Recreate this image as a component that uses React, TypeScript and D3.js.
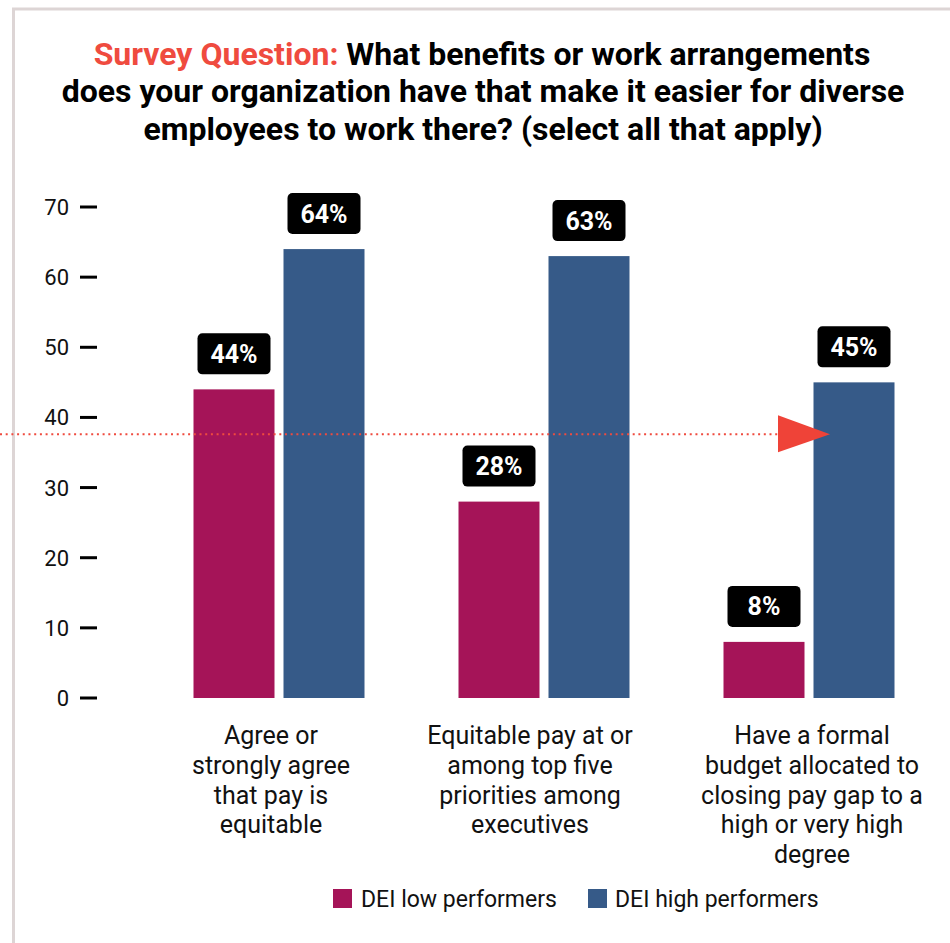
import React from "react";
import * as d3 from "d3";

const categories = [
  ["Agree or", "strongly agree", "that pay is", "equitable"],
  ["Equitable pay at or", "among top five", "priorities among", "executives"],
  ["Have a formal", "budget allocated to", "closing pay gap to a", "high or very high", "degree"],
];
const categoryKeys = ["c1", "c2", "c3"];
const seriesNames = ["DEI low performers", "DEI high performers"];
const lowValues = [44, 28, 8];
const highValues = [64, 63, 45];
const yTicks = [0, 10, 20, 30, 40, 50, 60, 70];
const referenceValue = 37.6;

const W = 950;
const H = 943;
const colors = ["#a51458", "#365a88"];
const FONT = "Roboto, 'Noto Sans', sans-serif";
// horizontal nudge of each category label block relative to its group centre (layout only)
const labelNudge = [-8, -14, 3];

export default function App() {
  const y = d3.scaleLinear().domain([0, 70]).range([698, 207]);
  const x0 = d3.scaleBand<string>().domain(categoryKeys).range([146.5, 941.5]).padding(0);
  const groupW = 171;
  const x1 = d3.scaleBand<string>().domain(seriesNames).range([0, groupW]).paddingInner(0.1);
  const series = [lowValues, highValues];

  const refY = y(referenceValue);
  const arrowTipX = (x0("c3") as number) + x0.bandwidth() / 2 + 21;

  return (
    <div style={{ position: "absolute", left: 0, top: 0 }}>
      <svg width={W} height={H} style={{ display: "block", background: "#fff" }}>
        {/* frame */}
        <line x1={12} x2={W} y1={9} y2={9} stroke="#ddd5d5" strokeWidth={3} />
        <line x1={13.5} x2={13.5} y1={8} y2={H} stroke="#ddd5d5" strokeWidth={3} />

        {/* title */}
        <g fontFamily={FONT} fontWeight={700} fontSize={32} textAnchor="middle" fill="#000">
          <text x={482} y={65}>
            <tspan fill="#ef4b3f">Survey Question:</tspan> What benefits or work arrangements
          </text>
          <text x={483} y={102}>does your organization have that make it easier for diverse</text>
          <text x={483} y={140}>employees to work there? (select all that apply)</text>
        </g>

        {/* y axis */}
        <g fontFamily={FONT} fontSize={22} fill="#111">
          {yTicks.map((t) => (
            <g key={t}>
              <line x1={80} x2={97} y1={y(t)} y2={y(t)} stroke="#000" strokeWidth={3} />
              <text x={69} y={y(t) + 8} textAnchor="end">
                {t}
              </text>
            </g>
          ))}
        </g>

        {/* bars */}
        {categoryKeys.map((k, i) => {
          const gx = (x0(k) as number) + x0.bandwidth() / 2 - groupW / 2;
          return (
            <g key={k}>
              {seriesNames.map((s, j) => {
                const v = series[j][i];
                const bx = gx + (x1(s) as number);
                const bw = x1.bandwidth();
                const by = y(v);
                const lw = 73;
                const lh = 41;
                return (
                  <g key={s}>
                    <rect x={bx} y={by} width={bw} height={y(0) - by} fill={colors[j]} />
                    <rect
                      x={bx + bw / 2 - lw / 2}
                      y={by - 15 - lh}
                      width={lw}
                      height={lh}
                      rx={5}
                      fill="#000"
                    />
                    <text
                      x={bx + bw / 2}
                      y={by - 15 - lh / 2 + 9}
                      textAnchor="middle"
                      fontFamily={FONT}
                      fontWeight={700}
                      fontSize={25}
                      fill="#fff"
                    >
                      {v}%
                    </text>
                  </g>
                );
              })}
            </g>
          );
        })}

        {/* reference dotted line with arrow */}
        <line
          x1={0}
          x2={arrowTipX - 50}
          y1={refY}
          y2={refY}
          stroke="#ef4b3f"
          strokeWidth={2.2}
          strokeDasharray="2 3.7"
        />
        <path
          d={`M${arrowTipX - 52},${refY - 19} L${arrowTipX},${refY} L${arrowTipX - 52},${refY + 18} Z`}
          fill="#ef4338"
        />

        {/* category labels */}
        <g fontFamily={FONT} fontSize={25} fill="#111" textAnchor="middle">
          {categoryKeys.map((k, i) => {
            const cx = (x0(k) as number) + x0.bandwidth() / 2 + labelNudge[i];
            return (
              <text key={k} x={cx} y={744}>
                {categories[i].map((line, li) => (
                  <tspan key={li} x={cx} dy={li === 0 ? 0 : 29.8}>
                    {line}
                  </tspan>
                ))}
              </text>
            );
          })}
        </g>

        {/* legend */}
        <g fontFamily={FONT} fontSize={23} fill="#111">
          <rect x={333} y={889} width={19} height={19} fill={colors[0]} />
          <text x={361} y={907}>{seriesNames[0]}</text>
          <rect x={588} y={889} width={19} height={19} fill={colors[1]} />
          <text x={615} y={907}>{seriesNames[1]}</text>
        </g>
      </svg>
    </div>
  );
}
